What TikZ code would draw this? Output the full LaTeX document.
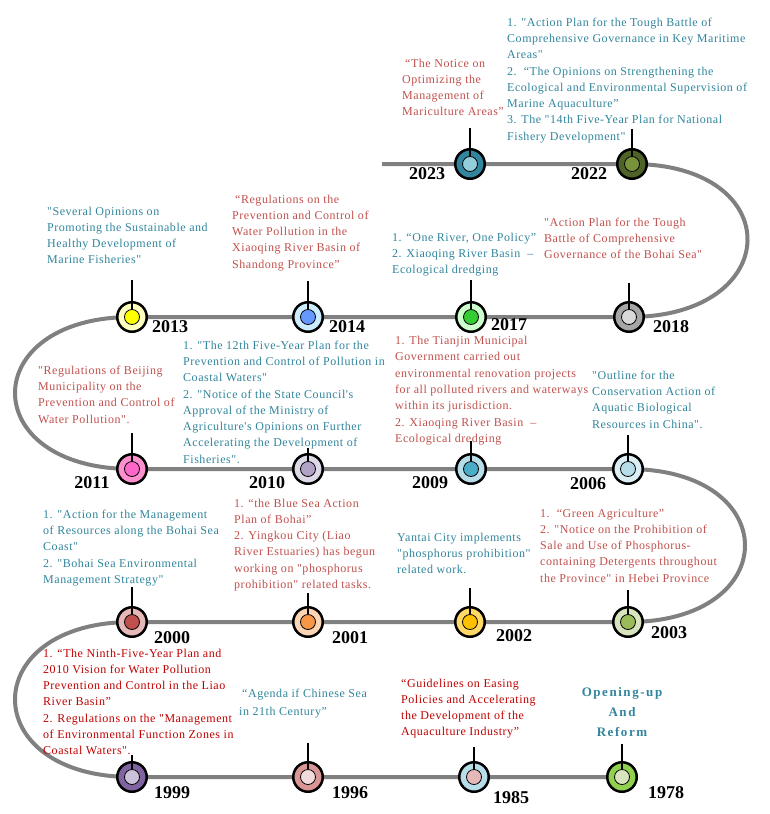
\documentclass[tikz,border=0pt]{standalone}
\usepackage{fontspec}
\setmainfont{Liberation Serif}[Ligatures=TeXOff]
\usepackage{tikz}
\usetikzlibrary{backgrounds}

\definecolor{linegray}{HTML}{808080}
\definecolor{tealtxt}{HTML}{31859C}
\definecolor{redtxt}{HTML}{C0504D}
\definecolor{deepred}{HTML}{C00000}
% couleurs des pastilles (anneau / point)
\definecolor{ring2023}{HTML}{31859C}\definecolor{dot2023}{HTML}{92CDDC}
\definecolor{ring2022}{HTML}{4F6228}\definecolor{dot2022}{HTML}{77933C}
\definecolor{ring2013}{HTML}{FFFFBF}\definecolor{dot2013}{HTML}{FFFF00}
\definecolor{ring2014}{HTML}{CCECFF}\definecolor{dot2014}{HTML}{6699FF}
\definecolor{ring2017}{HTML}{CCFFCC}\definecolor{dot2017}{HTML}{33CC33}
\definecolor{ring2018}{HTML}{A6A6A6}\definecolor{dot2018}{HTML}{D9D9D9}
\definecolor{ring2011}{HTML}{FF8FCF}\definecolor{dot2011}{HTML}{FF66CC}
\definecolor{ring2010}{HTML}{DDD9E6}\definecolor{dot2010}{HTML}{B3A2C7}
\definecolor{ring2009}{HTML}{B7DEE8}\definecolor{dot2009}{HTML}{4BACC6}
\definecolor{ring2006}{HTML}{DAEEF3}\definecolor{dot2006}{HTML}{B7DEE8}
\definecolor{ring2000}{HTML}{E6B9B8}\definecolor{dot2000}{HTML}{C0504D}
\definecolor{ring2001}{HTML}{FCD5B5}\definecolor{dot2001}{HTML}{F79646}
\definecolor{ring2002}{HTML}{FFD966}\definecolor{dot2002}{HTML}{FFC000}
\definecolor{ring2003}{HTML}{D7E4BD}\definecolor{dot2003}{HTML}{9BBB59}
\definecolor{ring1999}{HTML}{8064A2}\definecolor{dot1999}{HTML}{CCC1DA}
\definecolor{ring1996}{HTML}{D99694}\definecolor{dot1996}{HTML}{F2DCDB}
\definecolor{ring1985}{HTML}{B7DEE8}\definecolor{dot1985}{HTML}{E6B9B8}
\definecolor{ring1978}{HTML}{92D050}\definecolor{dot1978}{HTML}{D7E4BD}

\tikzset{
    tline/.style={draw=linegray,line width=4pt},
    ring/.style={circle,draw=black,line width=2.5pt,minimum size=29.5pt,inner sep=0pt},
    dot/.style={circle,draw=black,line width=0.8pt,minimum size=15pt,inner sep=0pt},
    stem/.style={draw=black,line width=1.2pt},
    year/.style={font=\bfseries\fontsize{18}{18}\selectfont},
    note/.style={anchor=north west,align=left,inner sep=0pt,font=\fontsize{12}{16.3}\selectfont\addfontfeatures{LetterSpace=4.5}}
}

\begin{document}
\begin{tikzpicture}[x=1pt,y=-1pt]
    \useasboundingbox (0,0) rectangle (769,814);
    % Frise chronologique
    \coordinate (start) at (382,164);

    % pastilles
    \node[ring,fill=ring2023] (c2023) at (470,164) {};
    \node[dot,fill=dot2023] (i2023) at (c2023) {};
    \node[ring,fill=ring2022] (c2022) at (632,164) {};
    \node[dot,fill=dot2022] (i2022) at (c2022) {};

    \node[ring,fill=ring2013] (c2013) at (132,317) {};
    \node[dot,fill=dot2013] (i2013) at (c2013) {};
    \node[ring,fill=ring2014] (c2014) at (308,317) {};
    \node[dot,fill=dot2014] (i2014) at (c2014) {};
    \node[ring,fill=ring2017] (c2017) at (471,317) {};
    \node[dot,fill=dot2017] (i2017) at (c2017) {};
    \node[ring,fill=ring2018] (c2018) at (629,317) {};
    \node[dot,fill=dot2018] (i2018) at (c2018) {};

    \node[ring,fill=ring2011] (c2011) at (132,469) {};
    \node[dot,fill=dot2011] (i2011) at (c2011) {};
    \node[ring,fill=ring2010] (c2010) at (308,469) {};
    \node[dot,fill=dot2010] (i2010) at (c2010) {};
    \node[ring,fill=ring2009] (c2009) at (471,469) {};
    \node[dot,fill=dot2009] (i2009) at (c2009) {};
    \node[ring,fill=ring2006] (c2006) at (628,469) {};
    \node[dot,fill=dot2006] (i2006) at (c2006) {};

    \node[ring,fill=ring2000] (c2000) at (132,622) {};
    \node[dot,fill=dot2000] (i2000) at (c2000) {};
    \node[ring,fill=ring2001] (c2001) at (308,622) {};
    \node[dot,fill=dot2001] (i2001) at (c2001) {};
    \node[ring,fill=ring2002] (c2002) at (470,622) {};
    \node[dot,fill=dot2002] (i2002) at (c2002) {};
    \node[ring,fill=ring2003] (c2003) at (628,622) {};
    \node[dot,fill=dot2003] (i2003) at (c2003) {};

    \node[ring,fill=ring1999] (c1999) at (132,777) {};
    \node[dot,fill=dot1999] (i1999) at (c1999) {};
    \node[ring,fill=ring1996] (c1996) at (308,777) {};
    \node[dot,fill=dot1996] (i1996) at (c1996) {};
    \node[ring,fill=ring1985] (c1985) at (474,777) {};
    \node[dot,fill=dot1985] (i1985) at (c1985) {};
    \node[ring,fill=ring1978] (c1978) at (622,777) {};
    \node[dot,fill=dot1978] (i1978) at (c1978) {};

    \begin{pgfonlayer}{background}
        \draw[tline] (start) -- (c2023.center) -- (c2022.center)
            .. controls +(156,0) and +(156,0) .. (c2018.center)
            -- (c2017.center) -- (c2014.center) -- (c2013.center)
            .. controls +(-156,0) and +(-156,0) .. (c2011.center)
            -- (c2010.center) -- (c2009.center) -- (c2006.center)
            .. controls +(156,0) and +(156,0) .. (c2003.center)
            -- (c2002.center) -- (c2001.center) -- (c2000.center)
            .. controls +(-156,0) and +(-156,0) .. (c1999.center)
            -- (c1996.center) -- (c1985.center) -- (c1978.center);
    \end{pgfonlayer}

    % annees
    \node[year] (y2023) at (427,174) {2023};
    \node[year] (y2022) at (589,174) {2022};
    \node[year] (y2013) at (170,327) {2013};
    \node[year] (y2014) at (347,327) {2014};
    \node[year] (y2017) at (509,325) {2017};
    \node[year] (y2018) at (671,327) {2018};
    \node[year] (y2011) at (92,483) {2011};
    \node[year] (y2010) at (267,483) {2010};
    \node[year] (y2009) at (430,483) {2009};
    \node[year] (y2006) at (588,484) {2006};
    \node[year] (y2000) at (172,638) {2000};
    \node[year] (y2001) at (350,638) {2001};
    \node[year] (y2002) at (514,636) {2002};
    \node[year] (y2003) at (669,633) {2003};
    \node[year] (y1999) at (172,793) {1999};
    \node[year] (y1996) at (350,793) {1996};
    \node[year] (y1985) at (511,798) {1985};
    \node[year] (y1978) at (666,793) {1978};

    % textes
    \node[note,text=redtxt] (t2023) at (402,58.5) {\hspace{3pt}“The Notice on\\Optimizing the\\Management of\\Mariculture Areas”};
    \node[note,text=tealtxt] (t2022) at (507,17.5) {1. "Action Plan for the Tough Battle of\\Comprehensive Governance in Key Maritime\\Areas"\\2.\ \ “The Opinions on Strengthening the\\Ecological and Environmental Supervision of\\Marine Aquaculture”\\3. The "14th Five-Year Plan for National\\Fishery Development"};
    \node[note,text=tealtxt] (t2013) at (47,206.5) {"Several Opinions on\\Promoting the Sustainable and\\Healthy Development of\\Marine Fisheries"};
    \node[note,text=redtxt] (t2014) at (232,194.5) {\hspace{3pt}“Regulations on the\\Prevention and Control of\\Water Pollution in the\\Xiaoqing River Basin of\\Shandong Province”};
    \node[note,text=tealtxt] (t2017) at (392,232.5) {1. “One River, One Policy”\\2. Xiaoqing River Basin \ –\\Ecological dredging};
    \node[note,text=redtxt] (t2018) at (544,217.5) {"Action Plan for the Tough\\Battle of Comprehensive\\Governance of the Bohai Sea"};
    \node[note,text=redtxt] (t2011) at (38,365.5) {"Regulations of Beijing\\Municipality on the\\Prevention and Control of\\Water Pollution".};
    \node[note,text=tealtxt] (t2010) at (183,340.5) {1. "The 12th Five-Year Plan for the\\Prevention and Control of Pollution in\\Coastal Waters"\\2. "Notice of the State Council's\\Approval of the Ministry of\\Agriculture's Opinions on Further\\Accelerating the Development of\\Fisheries".};
    \node[note,text=redtxt] (t2009) at (395,336) {1. The Tianjin Municipal\\Government carried out\\environmental renovation projects\\for all polluted rivers and waterways\\within its jurisdiction.\\2. Xiaoqing River Basin \ –\\Ecological dredging};
    \node[note,text=tealtxt] (t2006) at (592,370.5) {"Outline for the\\Conservation Action of\\Aquatic Biological\\Resources in China".};
    \node[note,text=tealtxt] (t2000) at (43,509.5) {1. "Action for the Management\\of Resources along the Bohai Sea\\Coast"\\2. "Bohai Sea Environmental\\Management Strategy"};
    \node[note,text=redtxt] (t2001) at (234,498.5) {1. “the Blue Sea Action\\Plan of Bohai”\\2. Yingkou City (Liao\\River Estuaries) has begun\\working on "phosphorus\\prohibition" related tasks.};
    \node[note,text=tealtxt] (t2002) at (397,532.5) {Yantai City implements\\"phosphorus prohibition"\\related work.};
    \node[note,text=redtxt] (t2003) at (540,508.5) {1.\ \ “Green Agriculture”\\2. "Notice on the Prohibition of\\Sale and Use of Phosphorus-\\containing Detergents throughout\\the Province" in Hebei Province};
    \node[note,text=deepred] (t1999) at (43,648.5) {1. “The Ninth-Five-Year Plan and\\2010 Vision for Water Pollution\\Prevention and Control in the Liao\\River Basin”\\2. Regulations on the "Management\\of Environmental Function Zones in\\Coastal Waters".};
    \node[note,text=tealtxt,font=\fontsize{12}{18}\selectfont\addfontfeatures{LetterSpace=4.5}] (t1996) at (239,688.5) {\hspace{3pt}“Agenda if Chinese Sea\\in 21th Century”};
    \node[note,text=deepred] (t1985) at (401,678.5) {“Guidelines on Easing\\Policies and Accelerating\\the Development of the\\Aquaculture Industry”};
    \node[anchor=north,align=center,inner sep=0pt,text=tealtxt,font=\bfseries\fontsize{13}{20}\selectfont\addfontfeatures{LetterSpace=12}] (t1978) at (622,687) {Opening-up\\And\\Reform};

    % tiges
    \coordinate (s2023) at (470,128);
    \coordinate (s2022) at (632,129);
    \coordinate (s2013) at (132,280);
    \coordinate (s2014) at (308,281);
    \coordinate (s2017) at (471,280);
    \coordinate (s2018) at (629,283);
    \coordinate (s2011) at (132,433);
    \coordinate (s2010) at (308,448);
    \coordinate (s2009) at (471,441);
    \coordinate (s2006) at (628,435);
    \coordinate (s2000) at (132,587);
    \coordinate (s2001) at (308,593);
    \coordinate (s2002) at (470,588);
    \coordinate (s2003) at (628,590);
    \coordinate (s1999) at (132,755);
    \coordinate (s1996) at (308,743);
    \coordinate (s1985) at (474,747);
    \coordinate (s1978) at (622,744);
    \draw[stem] (s2023) -- (i2023.north);
    \draw[stem] (s2022) -- (i2022.north);
    \draw[stem] (s2013) -- (i2013.north);
    \draw[stem] (s2014) -- (i2014.north);
    \draw[stem] (s2017) -- (i2017.north);
    \draw[stem] (s2018) -- (i2018.north);
    \draw[stem] (s2011) -- (i2011.north);
    \draw[stem] (s2010) -- (i2010.north);
    \draw[stem] (s2009) -- (i2009.north);
    \draw[stem] (s2006) -- (i2006.north);
    \draw[stem] (s2000) -- (i2000.north);
    \draw[stem] (s2001) -- (i2001.north);
    \draw[stem] (s2002) -- (i2002.north);
    \draw[stem] (s2003) -- (i2003.north);
    \draw[stem] (s1999) -- (i1999.north);
    \draw[stem] (s1996) -- (i1996.north);
    \draw[stem] (s1985) -- (i1985.north);
    \draw[stem] (s1978) -- (i1978.north);
\end{tikzpicture}
\end{document}
